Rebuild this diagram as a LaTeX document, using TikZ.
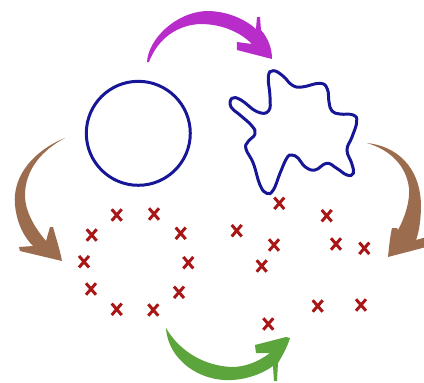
\documentclass[tikz,border=0pt]{standalone}
\usepackage{xcolor}
\usepackage{tikz}
\usetikzlibrary{shapes.misc}

\definecolor{shapeblue}{RGB}{22,22,150}
\definecolor{crossred}{RGB}{168,22,22}
\definecolor{arrowpurple}{RGB}{184,44,202}
\definecolor{arrowbrown}{RGB}{156,108,78}
\definecolor{arrowgreen}{RGB}{92,164,60}

\begin{document}
\begin{tikzpicture}[
    x=0.02cm, y=-0.02cm,
    outline/.style={draw=shapeblue, line width=1.7pt},
    disc/.style={circle, outline, minimum size=2.08cm, inner sep=0pt},
    pt/.style={cross out, draw=crossred, line width=1.7pt, minimum width=0.14cm, minimum height=0.17cm, inner sep=0pt}
]

% Frame
\useasboundingbox (0,0) rectangle (424,383);
\clip (0,0) rectangle (424,383);

% Shapes
\node[disc] (round) at (138.3,133.3) {};
\draw[outline] plot[smooth cycle, tension=0.75] coordinates {
    (273.3,70.7) (283,76) (292,85) (302,87) (320,83.3) (327.3,89)
    (329,102) (332,111) (340,114) (353.3,115) (356.7,122) (352,137)
    (347,150) (351.7,163.3) (353.3,173.3) (347,175) (336.7,168.3) (326.7,163.3)
    (315,170) (305,166.7) (298.3,158.3) (291.7,155) (286.7,158.3) (280,173.3)
    (273.3,190) (266.7,193.3) (260,185) (253.3,163.3) (246,149) (248,141.7)
    (255,134) (252,126) (240,115) (231,107) (232,98.3) (241,100)
    (257,111.7) (268.5,111) (270,96.7) (268.3,76.7)};

% Arrows
\fill[arrowpurple] (147,62) .. controls (148,40) and (175,12) .. (207,11)
    .. controls (228,11) and (246,20) .. (256,29) -- (257,17) -- (260,17) -- (261,30)
    .. controls (268,38) and (272,48) .. (272,59) -- (237,50) -- (237,42) -- (252,44)
    .. controls (240,32) and (222,24) .. (200,24) .. controls (178,25) and (158,38) .. (149,62) -- cycle;
\fill[arrowbrown] (65,138) .. controls (35,150) and (12,175) .. (15,205)
    .. controls (17,225) and (25,238) .. (33,246) -- (19,247) -- (20,251) -- (62,261)
    .. controls (60,250) and (56,238) .. (53,227) -- (50,227) -- (46,241)
    .. controls (35,228) and (25,212) .. (25,195) .. controls (25,170) and (42,150) .. (65,138) -- cycle;
\fill[arrowbrown] (367,143) .. controls (395,146) and (420,165) .. (421,205)
    .. controls (421,220) and (419,232) .. (416,240) -- (430,236) -- (430,246) -- (388,257)
    .. controls (389,247) and (390,237) .. (392,228) -- (397,228) -- (398,230)
    .. controls (406,215) and (410,200) .. (409,188) .. controls (406,165) and (390,150) .. (367,143) -- cycle;
\fill[arrowgreen] (166,328) .. controls (168,360) and (200,382) .. (232,380)
    .. controls (250,379) and (265,372) .. (273,366) -- (274,381) -- (277,381) -- (278,363)
    .. controls (283,355) and (288,345) .. (290,338) -- (286,337) -- (255,345) -- (256,353) -- (270,353)
    .. controls (258,362) and (245,367) .. (232,367) .. controls (205,366) and (180,352) .. (166,328) -- cycle;

% Points
\foreach \p [count=\i] in {(116.7,215), (154,214), (91.7,235), (180.7,233.3), (84,261.7),
    (188.3,262.7), (91,289), (179,292.3), (116.7,309.3), (153.3,310),
    (236.7,230.7), (279.3,203.3), (326.7,215.7), (274,245), (261.7,266),
    (336,244), (364.3,248.3), (317.7,306), (361,305), (268.3,324)}
    \node[pt] (x\i) at \p {};

\end{tikzpicture}
\end{document}
